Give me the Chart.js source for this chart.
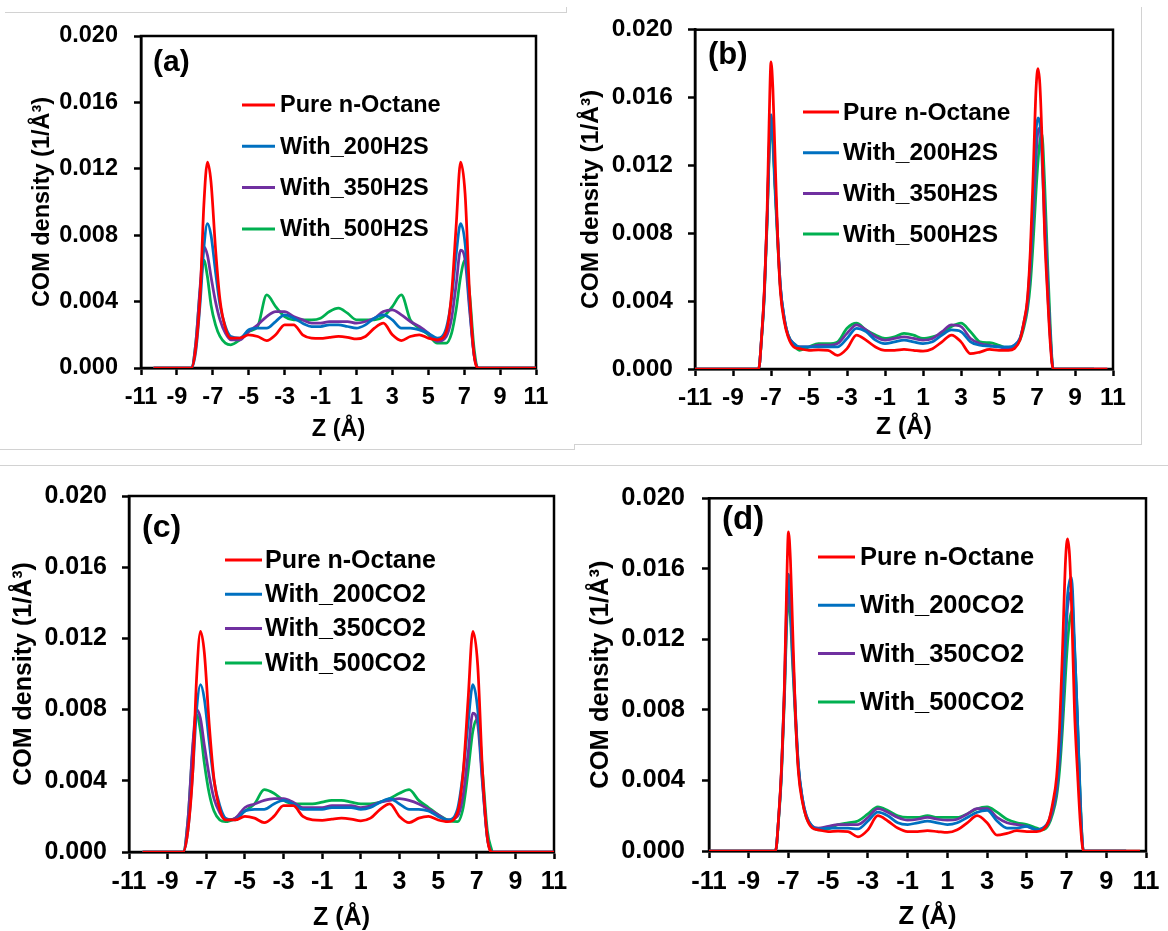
<!DOCTYPE html>
<html>
<head>
<meta charset="utf-8">
<script src="https://cdn.jsdelivr.net/npm/chart.js@4.4.1/dist/chart.umd.min.js"></script>
<style>
  body { margin: 0; background: #fff; width: 1168px; height: 931px; position: relative; overflow: hidden; }
  canvas { position: absolute; }
  .rule { position: absolute; background: #d2d2d2; }
</style>
</head>
<body>
<div class="rule" style="left:5px;top:12px;width:561px;height:1px"></div>
<div class="rule" style="left:566px;top:7px;width:1px;height:6px"></div>
<div class="rule" style="left:0;top:449px;width:574px;height:1px"></div>
<div class="rule" style="left:574px;top:444px;width:1px;height:6px"></div>
<div class="rule" style="left:574px;top:444px;width:567px;height:1px"></div>
<div class="rule" style="left:1141px;top:7px;width:1px;height:438px"></div>
<div class="rule" style="left:0;top:465px;width:1168px;height:1px"></div>

<canvas id="pa"></canvas>
<canvas id="pb"></canvas>
<canvas id="pc"></canvas>
<canvas id="pd"></canvas>

<script>
// z positions (Å) for the H2S/CO2 panels (a, c) and (b, d)
const zAC = [-10.3, -8.2, -7.95, -7.7, -7.5, -7.3, -7.1, -6.85, -6.6, -6.3, -6.0, -5.5, -5.0, -4.5, -4.0, -3.5, -3.0, -2.5,
  -2.0, -1.5, -1.0, -0.5, 0, 0.5, 1.0, 1.5, 2.0, 2.5, 3.0, 3.5, 4.0, 4.5, 5.0, 5.5, 6.0, 6.3, 6.55, 6.8, 7.05, 7.3, 7.55, 7.8, 11];
const zBD = [-11, -7.65, -7.5, -7.35, -7.2, -7.1, -7.0, -6.9, -6.8, -6.65, -6.5, -6.3, -6.1, -5.8, -5.5, -5.0, -4.5, -4.0,
  -3.5, -3.0, -2.5, -2.0, -1.5, -1.0, -0.5, 0, 0.5, 1.0, 1.5, 2.0, 2.5, 3.0, 3.5, 4.0, 4.5, 5.0, 5.5, 5.8, 6.1, 6.3, 6.5,
  6.65, 6.8, 6.95, 7.05, 7.15, 7.25, 7.4, 7.55, 7.7, 7.85, 10.0, 10.7];

// pure n-octane COM density (1/Å^3)
const octaneAC = [0, 0, 0.0012, 0.0045, 0.0098, 0.0124, 0.0112, 0.0072, 0.0041, 0.0024, 0.0018, 0.0018, 0.0020, 0.0019,
  0.00165, 0.0020, 0.0026, 0.0026, 0.0020, 0.0018, 0.00178, 0.00185, 0.0019, 0.00185, 0.00175, 0.0019, 0.0024, 0.0027,
  0.0020, 0.00165, 0.0019, 0.0020, 0.0018, 0.0017, 0.0022, 0.0045, 0.0085, 0.0124, 0.0105, 0.0045, 0.0008, 0, 0];
const octaneBD = [0, 0, 0.0018, 0.0047, 0.0095, 0.0145, 0.0181, 0.0165, 0.0130, 0.0078, 0.0045, 0.0028, 0.0019, 0.0013,
  0.0012, 0.0011, 0.00112, 0.0011, 0.0008, 0.0012, 0.0020, 0.0017, 0.0013, 0.0011, 0.0011, 0.00115, 0.0011, 0.00105,
  0.0012, 0.0016, 0.0020, 0.0016, 0.0009, 0.0010, 0.00115, 0.0011, 0.0011, 0.0012, 0.0017, 0.0027, 0.0042, 0.0070,
  0.0115, 0.0165, 0.0177, 0.0168, 0.0140, 0.0080, 0.0045, 0.0015, 0, 0, 0];

// with H2S, panel (a)
const h2s200A = [0, 0, 0.0010, 0.0040, 0.0072, 0.0087, 0.0080, 0.0058, 0.0038, 0.0025, 0.0019, 0.0018, 0.0023, 0.0024,
  0.0024, 0.0028, 0.0032, 0.0030, 0.0027, 0.0025, 0.0025, 0.0026, 0.0026, 0.0025, 0.0024, 0.0026, 0.0030, 0.0032,
  0.0029, 0.0024, 0.0024, 0.0023, 0.0021, 0.0018, 0.0024, 0.0042, 0.0068, 0.0087, 0.0075, 0.0038, 0.0008, 0, 0];
const h2s350A = [0, 0, 0.0015, 0.0050, 0.0073, 0.0068, 0.0055, 0.0040, 0.0029, 0.0021, 0.0017, 0.0017, 0.0022, 0.0026,
  0.0031, 0.0034, 0.0034, 0.0031, 0.0029, 0.0027, 0.0027, 0.0028, 0.0028, 0.0028, 0.0027, 0.0028, 0.0030, 0.0034,
  0.0035, 0.0032, 0.0028, 0.0025, 0.0021, 0.0016, 0.0019, 0.0030, 0.0050, 0.0071, 0.0065, 0.0035, 0.0008, 0, 0];
const h2s500A = [0, 0, 0.0015, 0.0048, 0.0065, 0.0055, 0.0038, 0.0026, 0.0019, 0.0015, 0.0014, 0.0017, 0.0022, 0.0025,
  0.0044, 0.0037, 0.0031, 0.0029, 0.0029, 0.0029, 0.0030, 0.0034, 0.0036, 0.0033, 0.0029, 0.0029, 0.0029, 0.0031,
  0.0037, 0.0044, 0.0029, 0.0024, 0.0020, 0.0015, 0.0015, 0.0021, 0.0035, 0.0055, 0.0065, 0.0045, 0.0012, 0, 0];

// with H2S, panel (b)
const h2s200B = [0, 0, 0.0018, 0.0045, 0.0090, 0.0130, 0.0150, 0.0138, 0.0112, 0.0078, 0.0048, 0.0030, 0.0020, 0.0015,
  0.0013, 0.0013, 0.0013, 0.0013, 0.0013, 0.0018, 0.0024, 0.0022, 0.0017, 0.0015, 0.0016, 0.0017, 0.0016, 0.0015,
  0.0016, 0.0020, 0.0023, 0.0022, 0.0016, 0.0014, 0.00135, 0.0013, 0.0013, 0.0014, 0.0018, 0.0027, 0.0040, 0.0065,
  0.0100, 0.0140, 0.0148, 0.0145, 0.0128, 0.0085, 0.0048, 0.0018, 0, 0, null];
const h2s350B = [0, 0, 0.0018, 0.0045, 0.0090, 0.0128, 0.0147, 0.0137, 0.0112, 0.0078, 0.0048, 0.0030, 0.0020, 0.0015,
  0.0013, 0.0013, 0.0014, 0.0014, 0.0015, 0.0021, 0.0026, 0.0023, 0.0019, 0.0017, 0.0018, 0.0019, 0.0018, 0.0017,
  0.0018, 0.0022, 0.0026, 0.0025, 0.0018, 0.0015, 0.0014, 0.0013, 0.0012, 0.0014, 0.0018, 0.0026, 0.0038, 0.0060,
  0.0090, 0.0125, 0.0140, 0.0142, 0.0132, 0.0095, 0.0055, 0.0020, 0, 0, 0];
const h2s500B = [0, 0, 0.0017, 0.0043, 0.0087, 0.0125, 0.0145, 0.0132, 0.0108, 0.0075, 0.0047, 0.0029, 0.0020, 0.0014,
  0.0011, 0.0013, 0.0015, 0.0015, 0.0016, 0.0024, 0.0027, 0.0023, 0.0020, 0.0018, 0.0019, 0.0021, 0.0020, 0.0018,
  0.0019, 0.0021, 0.0025, 0.0027, 0.0022, 0.0016, 0.00155, 0.0014, 0.0012, 0.0013, 0.0017, 0.0024, 0.0035, 0.0050,
  0.0075, 0.0105, 0.0122, 0.0134, 0.0139, 0.0110, 0.0065, 0.0025, 0, 0, null];

// with CO2, panel (c)
const co2200C = [0, 0, 0.0012, 0.0045, 0.0080, 0.0094, 0.0086, 0.0062, 0.0040, 0.0026, 0.0019, 0.0018, 0.0023, 0.0024,
  0.0024, 0.0027, 0.0029, 0.0027, 0.0024, 0.0024, 0.0024, 0.0025, 0.0025, 0.0025, 0.0024, 0.0025, 0.0028, 0.0030,
  0.0027, 0.0024, 0.0024, 0.0023, 0.0020, 0.0018, 0.0024, 0.0045, 0.0072, 0.0094, 0.0080, 0.0040, 0.0008, 0, 0];
const co2350C = [0, 0, 0.0018, 0.0060, 0.0080, 0.0075, 0.0060, 0.0043, 0.0030, 0.0022, 0.0018, 0.0019, 0.0025, 0.0027,
  0.0029, 0.0030, 0.0030, 0.0028, 0.0025, 0.0025, 0.0025, 0.0026, 0.0026, 0.0026, 0.0025, 0.0026, 0.0028, 0.0029,
  0.0030, 0.0029, 0.0027, 0.0024, 0.0021, 0.0018, 0.0020, 0.0032, 0.0055, 0.0078, 0.0072, 0.0038, 0.0008, 0, 0];
const co2500C = [0, 0, 0.0018, 0.0058, 0.0077, 0.0068, 0.0050, 0.0033, 0.0023, 0.0018, 0.0017, 0.0019, 0.0023, 0.0027,
  0.0035, 0.0033, 0.0029, 0.0027, 0.0027, 0.0027, 0.0028, 0.0029, 0.0029, 0.0028, 0.0027, 0.0027, 0.0028, 0.0030,
  0.0033, 0.0035, 0.0029, 0.0025, 0.0021, 0.0018, 0.0017, 0.0025, 0.0045, 0.0068, 0.0075, 0.0045, 0.0012, 0, null];

// with CO2, panel (d)
const co2200D = [0, 0, 0.0018, 0.0046, 0.0093, 0.0137, 0.0157, 0.0145, 0.0117, 0.0080, 0.0049, 0.0030, 0.0020, 0.0014,
  0.00125, 0.0013, 0.0013, 0.0013, 0.00125, 0.0017, 0.0022, 0.0020, 0.0016, 0.0015, 0.0016, 0.0017, 0.0016, 0.0015,
  0.0016, 0.0019, 0.0022, 0.0023, 0.0017, 0.0013, 0.0013, 0.0014, 0.0012, 0.0013, 0.0017, 0.0025, 0.0036, 0.0055,
  0.0085, 0.0125, 0.0145, 0.0153, 0.0155, 0.0118, 0.0075, 0.0025, 0, 0, null];
const co2350D = [0, 0, 0.0018, 0.0045, 0.0090, 0.0130, 0.0148, 0.0138, 0.0112, 0.0078, 0.0048, 0.0030, 0.0020, 0.0014,
  0.0013, 0.0014, 0.0015, 0.0015, 0.0015, 0.0019, 0.0024, 0.0022, 0.0019, 0.00175, 0.0018, 0.0019, 0.0018, 0.00175,
  0.0018, 0.0021, 0.0024, 0.0024, 0.0019, 0.0016, 0.0015, 0.0014, 0.0012, 0.0013, 0.0016, 0.0023, 0.0034, 0.0052,
  0.0080, 0.0118, 0.0138, 0.0145, 0.0147, 0.0112, 0.0072, 0.0025, 0, 0, null];
const co2500D = [0, 0, 0.0017, 0.0043, 0.0087, 0.0125, 0.0144, 0.0132, 0.0108, 0.0075, 0.0047, 0.0029, 0.0019, 0.0014,
  0.0012, 0.00125, 0.0015, 0.0016, 0.0017, 0.0021, 0.0025, 0.0023, 0.0020, 0.0019, 0.0019, 0.0020, 0.0019, 0.0019,
  0.0019, 0.0021, 0.0024, 0.0025, 0.0022, 0.0018, 0.0016, 0.0015, 0.0013, 0.0012, 0.0015, 0.0021, 0.0031, 0.0046,
  0.0070, 0.0100, 0.0118, 0.0130, 0.0136, 0.0115, 0.0075, 0.0028, 0, 0, null];

const labelsH2S = ['Pure n-Octane', 'With_200H2S', 'With_350H2S', 'With_500H2S'];
const labelsCO2 = ['Pure n-Octane', 'With_200CO2', 'With_350CO2', 'With_500CO2'];
const xTicks = [-11, -9, -7, -5, -3, -1, 1, 3, 5, 7, 9, 11];
const yTicks = [0, 0.004, 0.008, 0.012, 0.016, 0.020];
const colors = ['#FF0000', '#0070C0', '#7030A0', '#00B050'];

const FAMILY = "'Liberation Sans', Arial, Helvetica, sans-serif";
Chart.defaults.font.family = FAMILY;
Chart.defaults.font.weight = 'bold';
Chart.defaults.color = '#000';

// page layout of each panel: canvas box [left, top, w, h], plot area [L, T, R, B]
const panels = [
  { id: 'pa', box: [0, 0, 566, 452], plot: [141, 36, 536, 368], z: zAC, series: [octaneAC, h2s200A, h2s350A, h2s500A], names: labelsH2S,
    tag: '(a)', tagPos: [153, 63], tagSize: 30, size: 23.5, legend: [242, 105, 41.3, 33, 5],
    yLabelPad: 16, xLabelPad: 8, yTitlePad: 30.75, xTitlePad: 10.25 },
  { id: 'pb', box: [566, 0, 602, 452], plot: [695, 28, 1113, 369], z: zBD, series: [octaneBD, h2s200B, h2s350B, h2s500B], names: labelsH2S,
    tag: '(b)', tagPos: [708, 55], tagSize: 31, size: 24.5, legend: [803, 112, 40.7, 36, 4],
    yLabelPad: 15, xLabelPad: 7.5, yTitlePad: 12.75, xTitlePad: 12.75 },
  { id: 'pc', box: [0, 466, 580, 465], plot: [129, 494, 554, 852], z: zAC, series: [octaneAC, co2200C, co2350C, co2500C], names: labelsCO2,
    tag: '(c)', tagPos: [142, 528], tagSize: 32, size: 25, legend: [225, 560, 34.3, 37, 3],
    yLabelPad: 15, xLabelPad: 8, yTitlePad: 11.5, xTitlePad: 0.5 },
  { id: 'pd', box: [580, 466, 588, 465], plot: [709, 487, 1146, 851], z: zBD, series: [octaneBD, co2200D, co2350D, co2500D], names: labelsCO2,
    tag: '(d)', tagPos: [722, 520], tagSize: 33, size: 25.5, legend: [818, 557, 48.3, 37, 5],
    yLabelPad: 17, xLabelPad: 8.5, yTitlePad: 8.25, xTitlePad: 1.25 }
];

// closed frame, panel tag and line legend drawn inside the plot area
const panelDecor = {
  id: 'panelDecor',
  beforeDatasetsDraw(chart) {
    const { ctx, chartArea: a } = chart;
    ctx.save();
    ctx.strokeStyle = '#000';
    ctx.lineWidth = 2.5;
    ctx.strokeRect(a.left, a.top, a.right - a.left, a.bottom - a.top);
    ctx.restore();
  },
  afterDraw(chart, args, opts) {
    const ctx = chart.ctx;
    ctx.save();
    ctx.fillStyle = '#000';
    ctx.textBaseline = 'middle';
    ctx.font = `bold ${opts.tagSize}px ${FAMILY}`;
    ctx.fillText(opts.tag, opts.tagX, opts.tagY);
    ctx.font = `bold ${opts.size}px ${FAMILY}`;
    chart.data.datasets.forEach((ds, i) => {
      const y = opts.y + i * opts.gap;
      ctx.strokeStyle = ds.borderColor;
      ctx.lineWidth = 3;
      ctx.beginPath();
      ctx.moveTo(opts.x, y);
      ctx.lineTo(opts.x + opts.len, y);
      ctx.stroke();
      ctx.fillText(ds.label, opts.x + opts.len + opts.textGap, y + 1);
    });
    ctx.restore();
  }
};

panels.forEach(p => {
  const [bx, by, bw, bh] = p.box;
  const [L, T, R, B] = p.plot;
  const cv = document.getElementById(p.id);
  cv.width = bw; cv.height = bh;
  cv.style.left = bx + 'px'; cv.style.top = by + 'px';

  const datasets = p.series.map((vals, i) => ({
    label: p.names[i],
    data: p.z.map((x, k) => ({ x: x, y: vals[k] })),
    borderColor: colors[i],
    borderWidth: 2.75,
    pointRadius: 0,
    cubicInterpolationMode: 'monotone',
    fill: false
  }));

  new Chart(cv, {
    type: 'line',
    data: { datasets },
    plugins: [panelDecor],
    options: {
      responsive: false,
      animation: false,
      events: [],
      layout: { padding: { top: T - by, right: bx + bw - R, left: 0, bottom: 0 } },
      plugins: {
        legend: { display: false },
        tooltip: { enabled: false },
        panelDecor: {
          tag: p.tag, tagX: p.tagPos[0] - bx, tagY: p.tagPos[1] - by, tagSize: p.tagSize,
          size: p.size, x: p.legend[0] - bx, y: p.legend[1] - by, gap: p.legend[2], len: p.legend[3], textGap: p.legend[4]
        }
      },
      scales: {
        x: {
          type: 'linear', min: -11, max: 11,
          afterFit: s => { s.height = by + bh - B; },
          afterBuildTicks: s => { s.ticks = xTicks.map(v => ({ value: v })); },
          grid: { drawOnChartArea: false, tickLength: 7, tickWidth: 2.5, tickColor: '#000' },
          border: { color: '#000', width: 2.5 },
          ticks: { font: { size: p.size }, padding: p.xLabelPad, maxRotation: 0, autoSkip: false, callback: v => String(v) },
          title: { display: true, text: 'Z (Å)', font: { size: p.size, lineHeight: 1 }, padding: { top: 0, bottom: p.xTitlePad } }
        },
        y: {
          type: 'linear', min: 0, max: 0.02,
          afterFit: s => { s.width = L - bx; },
          afterBuildTicks: s => { s.ticks = yTicks.map(v => ({ value: v })); },
          grid: { drawOnChartArea: false, tickLength: 7, tickWidth: 2.5, tickColor: '#000' },
          border: { color: '#000', width: 2.5 },
          ticks: { font: { size: p.size }, padding: p.yLabelPad, callback: v => v.toFixed(3) },
          title: { display: true, text: 'COM density (1/Å³)', font: { size: p.size, lineHeight: 1 }, padding: { top: p.yTitlePad, bottom: 0 } }
        }
      }
    }
  });
});
</script>
</body>
</html>
